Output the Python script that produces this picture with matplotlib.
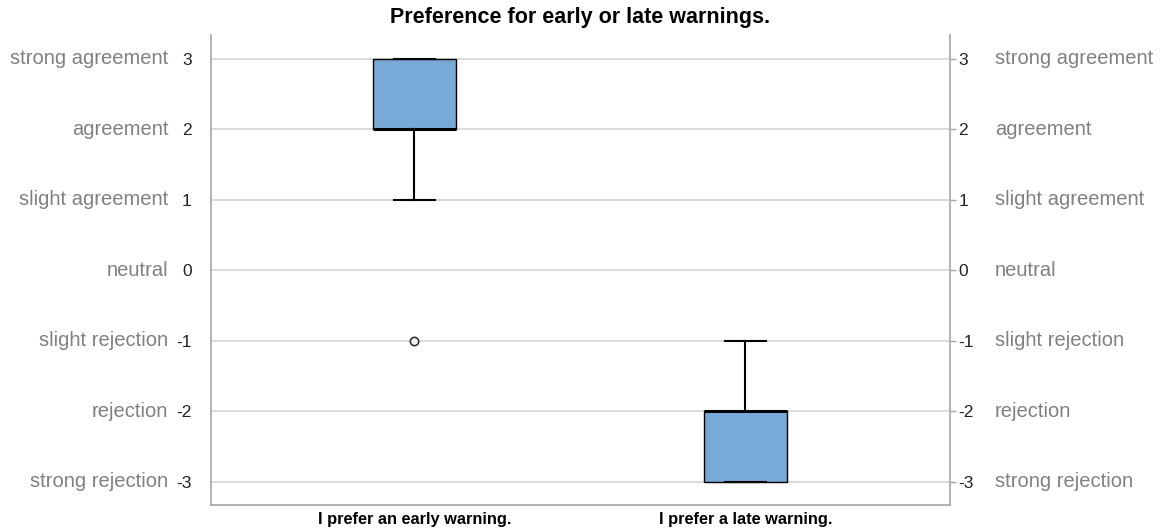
import numpy as np
import matplotlib
matplotlib.use('Agg')
import matplotlib.pyplot as plt
import matplotlib.transforms as mtransforms

plt.rcParams['font.family'] = ['Liberation Sans', 'DejaVu Sans']

# data
categories = ['I prefer an early warning.', 'I prefer a late warning.']
medians = [2, -2]
q1 = [2, -3]
q3 = [3, -2]
whislo = [1, -3]
whishi = [3, -1]
fliers = [[-1], []]

scale_values = [3, 2, 1, 0, -1, -2, -3]
scale_labels = ['strong agreement', 'agreement', 'slight agreement', 'neutral',
                'slight rejection', 'rejection', 'strong rejection']

fig = plt.figure(figsize=(11.63, 5.31), dpi=100)
ax = fig.add_axes([211/1163, 1 - 505/531, 739/1163, 470/531])

stats = []
for i in range(len(categories)):
    stats.append({'med': medians[i], 'q1': q1[i], 'q3': q3[i],
                  'whislo': whislo[i], 'whishi': whishi[i],
                  'fliers': fliers[i], 'label': categories[i]})

positions = [1, 2]
ax.bxp(stats, positions=positions, widths=0.25, patch_artist=True,
       showfliers=True, zorder=3,
       boxprops=dict(facecolor='#79a9d6', edgecolor='black', linewidth=1.0),
       medianprops=dict(color='black', linewidth=2.2),
       whiskerprops=dict(color='black', linewidth=1.5),
       capprops=dict(color='black', linewidth=1.5),
       capwidths=0.125,
       flierprops=dict(marker='o', markersize=6, markerfacecolor='white',
                       markeredgecolor='#333333', markeredgewidth=1.2))

ax.set_xlim(0.386, 2.618)
ax.set_ylim(-3.33, 3.34)

for v in scale_values:
    ax.axhline(v, color='#d4d4d4', linewidth=1.2, zorder=1)

for s in ['top', 'right']:
    ax.spines[s].set_visible(False)
ax.spines['left'].set_color('#a6a6a6')
ax.spines['bottom'].set_color('#a6a6a6')
ax.spines['left'].set_linewidth(1.2)
ax.spines['bottom'].set_linewidth(1.2)

ax.set_yticks(scale_values)
ax.set_yticklabels([str(v) for v in scale_values], fontsize=12.5, color='#222222')
ax.tick_params(axis='y', length=0, pad=14)
ax.set_xticks(positions)
ax.set_xticklabels(categories, fontsize=11.8, fontweight='bold', color='black')
ax.tick_params(axis='x', length=0, pad=5)

ax2 = ax.twinx()
ax2.set_ylim(ax.get_ylim())
ax2.set_yticks(scale_values)
ax2.set_yticklabels([str(v) for v in scale_values], fontsize=12.5, color='#222222')
ax2.tick_params(axis='y', length=4, width=1, color='#a6a6a6', pad=2)
for s in ['top', 'left', 'bottom']:
    ax2.spines[s].set_visible(False)
ax2.spines['right'].set_color('#a6a6a6')
ax2.spines['right'].set_linewidth(1.2)

trans = mtransforms.blended_transform_factory(ax.transAxes, ax.transData)
for v, lab in zip(scale_values, scale_labels):
    ax.text(-0.058, v, lab, transform=trans, ha='right', va='center',
            fontsize=14.5, color='#808080')
    ax.text(1.061, v, lab, transform=trans, ha='left', va='center',
            fontsize=14.5, color='#808080')

fig.text(580/1163, 1 - 17/531, 'Preference for early or late warnings.',
         ha='center', va='center', fontsize=15.5, fontweight='bold')

fig.savefig('out.png', dpi=100)
